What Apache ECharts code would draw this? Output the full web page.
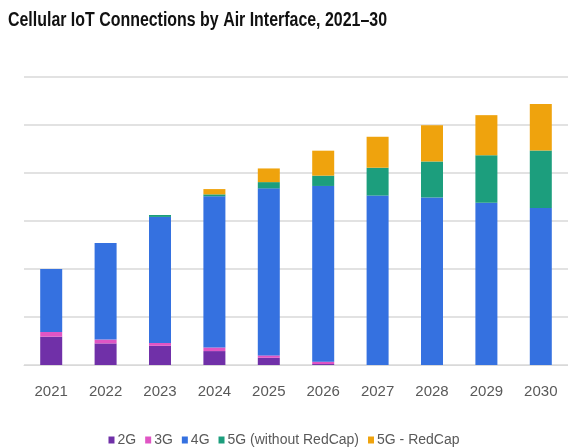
<!DOCTYPE html>
<html>
<head>
<meta charset="utf-8">
<script src="https://cdn.jsdelivr.net/npm/echarts@6/dist/echarts.min.js"></script>
<style>
  html, body { margin: 0; padding: 0; background: #fff; }
  #chart { width: 568px; height: 447px; }
</style>
</head>
<body>
<div id="chart"></div>
<script>
// Cellular IoT connections (billions) by air interface
const years = ['2021', '2022', '2023', '2024', '2025', '2026', '2027', '2028', '2029', '2030'];
const conn2G = [0.59, 0.45, 0.40, 0.29, 0.15, 0.02, 0, 0, 0, 0];
const conn3G = [0.10, 0.08, 0.06, 0.075, 0.05, 0.05, 0, 0, 0, 0];
const conn4G = [1.31, 2.01, 2.625, 3.15, 3.48, 3.66, 3.53, 3.49, 3.38, 3.27];
const conn5G = [0, 0, 0.04, 0.04, 0.13, 0.215, 0.58, 0.75, 0.99, 1.2];
const conn5GRedCap = [0, 0, 0, 0.11, 0.285, 0.52, 0.645, 0.755, 0.835, 0.965];

const seriesNames = ['2G', '3G', '4G', '5G (without RedCap)', '5G - RedCap'];
const seriesData = [conn2G, conn3G, conn4G, conn5G, conn5GRedCap];
const seriesColors = ['#7030a8', '#e055c4', '#3571e0', '#1c9e7d', '#efa30d'];

const titleText = 'Cellular IoT Connections by Air Interface, 2021–30';
const titleFont = 'bold 20px "Liberation Sans", Arial, sans-serif';
const baseFont = '"Liberation Sans", Arial, sans-serif';

// The heading is set in a condensed style: squeeze the text horizontally to its column width
const measureCtx = document.createElement('canvas').getContext('2d');
measureCtx.font = titleFont;
const titleSqueeze = 379 / measureCtx.measureText(titleText).width;

const chart = echarts.init(document.getElementById('chart'), null, { renderer: 'canvas' });

chart.setOption({
  animation: false,
  backgroundColor: '#ffffff',
  graphic: [{
    type: 'text',
    x: 8,
    y: 10,
    scaleX: titleSqueeze,
    style: { text: titleText, font: titleFont, fill: '#111111' }
  }],
  legend: {
    top: 428,
    left: 'center',
    icon: 'rect',
    itemWidth: 6,
    itemHeight: 7,
    itemGap: 9,
    textStyle: { fontFamily: baseFont, fontSize: 14, color: '#595959', padding: [0, 0, 0, -2] },
    data: seriesNames
  },
  grid: { left: 24, top: 77, width: 546, height: 288, containLabel: false },
  xAxis: {
    type: 'category',
    data: years,
    axisTick: { show: false },
    axisLine: { lineStyle: { color: '#d9d9d9', width: 1 } },
    axisLabel: { fontFamily: baseFont, fontSize: 15, color: '#595959', margin: 19 }
  },
  yAxis: {
    type: 'value',
    min: 0,
    max: 6,
    interval: 1,
    axisLabel: { show: false },
    axisLine: { show: false },
    axisTick: { show: false },
    splitLine: { lineStyle: { color: '#d9d9d9', width: 1.5 } }
  },
  series: seriesNames.map((name, i) => ({
    name: name,
    type: 'bar',
    stack: 'total',
    barWidth: 22,
    itemStyle: { color: seriesColors[i] },
    data: seriesData[i]
  }))
});
</script>
</body>
</html>
